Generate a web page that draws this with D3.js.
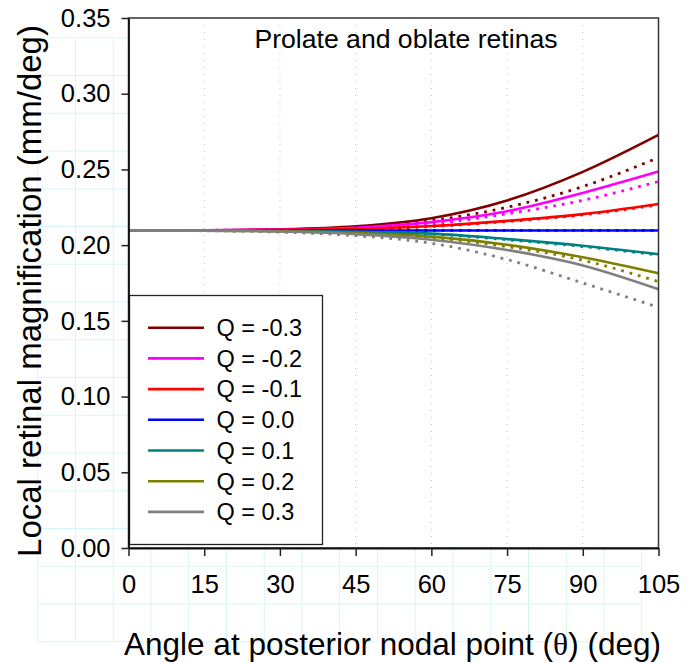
<!DOCTYPE html>
<html>
<head>
<meta charset="utf-8">
<script src="https://cdn.jsdelivr.net/npm/d3@7"></script>
<style>
  html, body { margin: 0; padding: 0; background: #fff; }
  svg { display: block; font-family: "Liberation Sans", Arial, sans-serif; }
</style>
</head>
<body>
<svg id="chart" width="696" height="663"></svg>
<script>
// angle at posterior nodal point (deg)
const angles = [0, 15, 30, 45, 60, 75, 90, 105]

const qLabels = ['Q = -0.3', 'Q = -0.2', 'Q = -0.1', 'Q = 0.0', 'Q = 0.1', 'Q = 0.2', 'Q = 0.3']
const qColors = ['#800000', '#ff00ff', '#ff0000', '#0000ff', '#008080', '#808000', '#808080']

// solid curves, one row per Q
const solidValues = [
    [0.2097, 0.2098, 0.2104, 0.2124, 0.2178, 0.2295, 0.2484, 0.2728],
    [0.2097, 0.2098, 0.2102, 0.2115, 0.2152, 0.2224, 0.2345, 0.2486],
    [0.2097, 0.2097, 0.2100, 0.2106, 0.2126, 0.2160, 0.2205, 0.2272],
    [0.2097, 0.2097, 0.2097, 0.2097, 0.2097, 0.2097, 0.2097, 0.2097],
    [0.2097, 0.2097, 0.2094, 0.2088, 0.2076, 0.2040, 0.1996, 0.1940],
    [0.2097, 0.2096, 0.2092, 0.2080, 0.2056, 0.2003, 0.1920, 0.1814],
    [0.2097, 0.2096, 0.2090, 0.2073, 0.2036, 0.1968, 0.1866, 0.1709]
]

// dotted curves, one row per Q
const dottedValues = [
    [0.2097, 0.2098, 0.2102, 0.2117, 0.2162, 0.2250, 0.2387, 0.2578],
    [0.2097, 0.2097, 0.2101, 0.2110, 0.2140, 0.2207, 0.2296, 0.2420],
    [0.2097, 0.2097, 0.2100, 0.2105, 0.2123, 0.2156, 0.2200, 0.2266],
    [0.2097, 0.2097, 0.2097, 0.2097, 0.2097, 0.2097, 0.2097, 0.2097],
    [0.2097, 0.2097, 0.2094, 0.2087, 0.2073, 0.2036, 0.1991, 0.1935],
    [0.2097, 0.2096, 0.2091, 0.2077, 0.2049, 0.1990, 0.1900, 0.1759],
    [0.2097, 0.2095, 0.2086, 0.2062, 0.2012, 0.1905, 0.1750, 0.1590]
]

const xTicks = [0, 15, 30, 45, 60, 75, 90, 105]
const yTicks = [0, 0.05, 0.10, 0.15, 0.20, 0.25, 0.30, 0.35]

const svg = d3.select('#chart')

// page grid behind everything (1 cm cells)
const cell = 37.75
const gridIdx = d3.range(1, 18)
const page = svg.append('g')
page.selectAll('line.v')
    .data(gridIdx)
    .join('line')
    .attr('class', 'v')
    .attr('x1', k => k * cell).attr('x2', k => k * cell)
    .attr('y1', cell).attr('y2', 17 * cell)
    .attr('stroke', '#d6f6f6').attr('stroke-width', 1)
page.selectAll('line.h')
    .data(gridIdx)
    .join('line')
    .attr('class', 'h')
    .attr('y1', k => k * cell).attr('y2', k => k * cell)
    .attr('x1', cell).attr('x2', 17 * cell)
    .attr('stroke', '#d6f6f6').attr('stroke-width', 1)

const plotLeft = 128.5, plotRight = 658.5, plotTop = 18, plotBottom = 548

const x = d3.scaleLinear().domain([0, 105]).range([plotLeft, plotRight])
const y = d3.scaleLinear().domain([0, 0.35]).range([plotBottom, plotTop])

svg.append('rect')
    .attr('x', plotLeft).attr('y', plotTop)
    .attr('width', plotRight - plotLeft).attr('height', plotBottom - plotTop)
    .attr('fill', '#fff')

// dotted vertical grid
svg.append('g')
    .selectAll('line')
    .data(xTicks.slice(1, -1))
    .join('line')
    .attr('x1', d => x(d)).attr('x2', d => x(d))
    .attr('y1', plotTop).attr('y2', plotBottom)
    .attr('stroke', '#bdbdbd')
    .attr('stroke-width', 1)
    .attr('stroke-dasharray', '1,6')

svg.append('text')
    .attr('x', 406).attr('y', 48)
    .attr('text-anchor', 'middle')
    .attr('font-size', 26.6)
    .text('Prolate and oblate retinas')

const line = d3.line()
    .x((d, i) => x(angles[i]))
    .y(d => y(d))
    .curve(d3.curveMonotoneX)

const curves = svg.append('g').attr('fill', 'none')
qColors.forEach((color, i) => {
    curves.append('path')
        .attr('d', line(solidValues[i]))
        .attr('stroke', color)
        .attr('stroke-width', 2.6)
    curves.append('path')
        .attr('d', line(dottedValues[i]))
        .attr('stroke', color)
        .attr('stroke-width', 2.8)
        .attr('stroke-dasharray', '2.8,5.9')
})

// legend
const legend = svg.append('g')
legend.append('rect')
    .attr('x', 129.5).attr('y', 295.5)
    .attr('width', 193).attr('height', 249)
    .attr('fill', '#fff')
    .attr('stroke', '#222').attr('stroke-width', 1.3)
const rows = legend.selectAll('g')
    .data(qLabels)
    .join('g')
    .attr('transform', (d, i) => `translate(0,${327.7 + i * 30.7})`)
rows.append('line')
    .attr('x1', 148).attr('x2', 204)
    .attr('stroke', (d, i) => qColors[i])
    .attr('stroke-width', 2.6)
rows.append('text')
    .attr('x', 216.5).attr('y', 8.3)
    .attr('font-size', 23.5)
    .text(d => d)

// frame
svg.append('rect')
    .attr('x', plotLeft).attr('y', plotTop)
    .attr('width', plotRight - plotLeft).attr('height', plotBottom - plotTop)
    .attr('fill', 'none')
    .attr('stroke', '#333').attr('stroke-width', 1.5)

const xAxis = svg.append('g')
    .attr('transform', `translate(0,${plotBottom})`)
    .call(d3.axisBottom(x).tickValues(xTicks).tickSize(8).tickSizeOuter(0).tickPadding(19))
const yAxis = svg.append('g')
    .attr('transform', `translate(${plotLeft},0)`)
    .call(d3.axisLeft(y).tickValues(yTicks).tickSize(7).tickSizeOuter(0).tickPadding(11).tickFormat(d3.format('.2f')))

;[xAxis, yAxis].forEach(a => {
    a.select('.domain').attr('stroke', '#111').attr('stroke-width', 1.8)
    a.selectAll('.tick line').attr('stroke', '#222').attr('stroke-width', 1.5)
    a.selectAll('.tick text')
        .attr('fill', '#000')
        .attr('font-size', 25.5)
        .attr('font-family', '"Liberation Sans", Arial, sans-serif')
})

const xTitle = svg.append('text')
    .attr('x', 392.5).attr('y', 655)
    .attr('text-anchor', 'middle')
    .attr('font-size', 31.5)
xTitle.append('tspan').text('Angle at posterior nodal point (')
xTitle.append('tspan').attr('font-family', '"Liberation Serif", serif').text('θ')
xTitle.append('tspan').text(') (deg)')

svg.append('text')
    .attr('transform', 'translate(41,291) rotate(-90)')
    .attr('text-anchor', 'middle')
    .attr('font-size', 33)
    .text('Local retinal magnification (mm/deg)')
</script>
</body>
</html>
